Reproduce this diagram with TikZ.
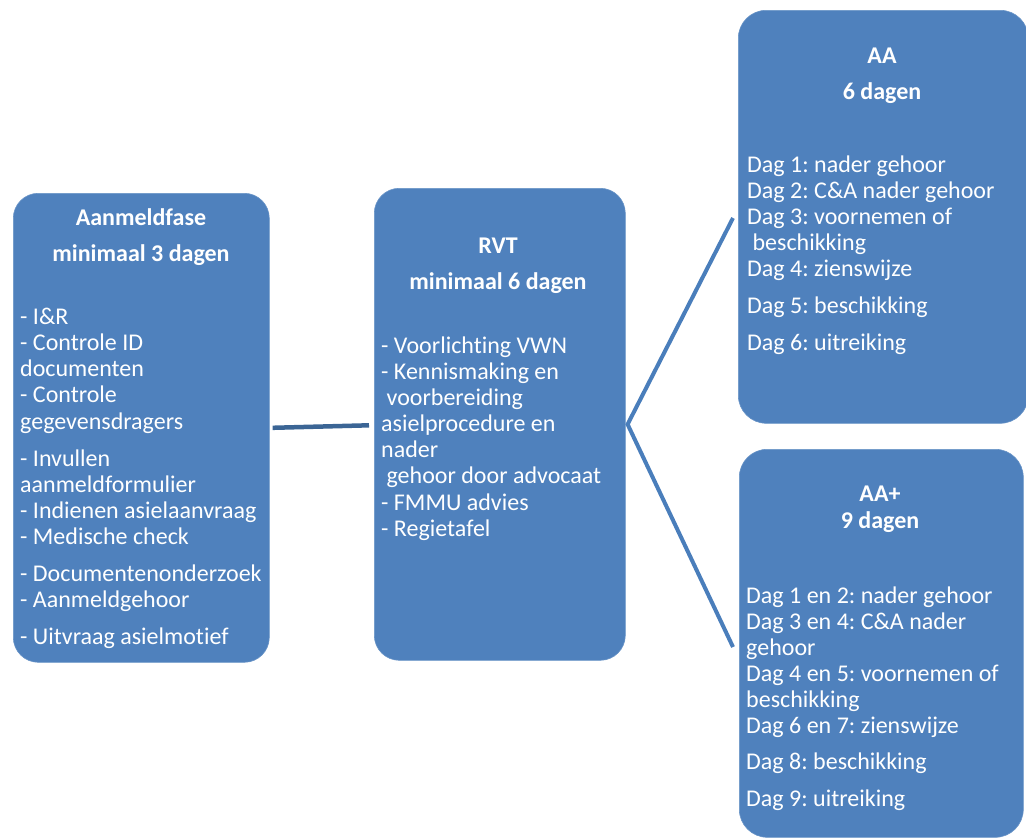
\documentclass[tikz,border=0pt]{standalone}
\usepackage{fontspec}
\setmainfont{Carlito}[Ligatures=NoCommon]
\definecolor{boxblue}{HTML}{4F81BD}
\definecolor{lineblue}{HTML}{4A7EBB}
\definecolor{darkline}{HTML}{3B6595}
\frenchspacing
\begin{document}
\begin{tikzpicture}[x=1pt,y=-1pt,
  phasebox/.style={fill=boxblue,draw=boxblue!85!white,line width=0.6pt,inner sep=0pt,anchor=north west},
  txt/.style={inner sep=0pt,anchor=base west,text=white,font=\fontsize{24}{26}\selectfont},
  ttl/.style={inner sep=0pt,anchor=base,text=white,font=\fontsize{24}{26}\selectfont\bfseries},
  conn/.style={line width=4pt,draw=lineblue},
  conndark/.style={line width=4.5pt,draw=darkline}]
\useasboundingbox (0,0) rectangle (1026,839);
\begin{scope}
\clip (0,0) rectangle (1026,839);
% boxes
\node[phasebox,rounded corners=25pt,minimum width=256pt,minimum height=469pt] (l) at (13,193) {};
\node[phasebox,rounded corners=25pt,minimum width=251pt,minimum height=472pt] (m) at (374,188) {};
\node[phasebox,rounded corners=28pt,minimum width=290pt,minimum height=413pt] (aa) at (738,10) {};
\node[phasebox,rounded corners=28pt,minimum width=284pt,minimum height=388pt] (aap) at (739,449) {};
\end{scope}
% connectors
\coordinate (lstart) at ([xshift=3pt]l.east);
\coordinate (mend) at ([xshift=-5pt,yshift=-1pt]m.west);
\coordinate (hub) at ([xshift=2pt]m.east);
\coordinate (aaend) at (733,218);
\coordinate (aapend) at (733,647);
\draw[conndark] (lstart) -- (mend);
\draw[conn,line join=miter] (aaend) -- (hub) -- (aapend);
% left box text
\node[ttl] (l1) at (141,225) {Aanmeldfase};
\node[ttl] (l2) at (141,261) {minimaal 3 dagen};
\node[txt] (l3) at (20,324) {- I\&R};
\node[txt] (l4) at (20,350) {- Controle ID};
\node[txt] (l5) at (20,376) {documenten};
\node[txt] (l6) at (20,402) {- Controle};
\node[txt] (l7) at (20,429) {gegevensdragers};
\node[txt] (l8) at (20,466) {- Invullen};
\node[txt] (l9) at (20,492) {aanmeldformulier};
\node[txt] (l10) at (20,518) {- Indienen asielaanvraag};
\node[txt] (l11) at (20,544) {- Medische check};
\node[txt] (l12) at (20,581) {- Documentenonderzoek};
\node[txt] (l13) at (20,607) {- Aanmeldgehoor};
\node[txt] (l14) at (20,644) {- Uitvraag asielmotief};
% middle box text
\node[ttl] (m1) at (498,253) {RVT};
\node[ttl] (m2) at (498,289) {minimaal 6 dagen};
\node[txt] (m3) at (381,353) {- Voorlichting VWN};
\node[txt] (m4) at (381,379) {- Kennismaking en};
\node[txt] (m5) at (381,405) {\ voorbereiding};
\node[txt] (m6) at (381,431) {asielprocedure en};
\node[txt] (m7) at (381,457) {nader};
\node[txt] (m8) at (381,483) {\ gehoor door advocaat};
\node[txt] (m9) at (381,510) {- FMMU advies};
\node[txt] (m10) at (381,536) {- Regietafel};
% AA box text
\node[ttl] (a1) at (882,63) {AA};
\node[ttl] (a2) at (882,99) {6 dagen};
\node[txt] (a3) at (747,172) {Dag 1: nader gehoor};
\node[txt] (a4) at (747,198) {Dag 2: C\&A nader gehoor};
\node[txt] (a5) at (747,224) {Dag 3: voornemen of};
\node[txt] (a6) at (747,250) {\ beschikking};
\node[txt] (a7) at (747,276) {Dag 4: zienswijze};
\node[txt] (a8) at (747,313) {Dag 5: beschikking};
\node[txt] (a9) at (747,350) {Dag 6: uitreiking};
% AA+ box text
\node[ttl] (p1) at (880,501) {AA+};
\node[ttl] (p2) at (880,528) {9 dagen};
\node[txt] (p3) at (746,603) {Dag 1 en 2: nader gehoor};
\node[txt] (p4) at (746,629) {Dag 3 en 4: C\&A nader};
\node[txt] (p5) at (746,655) {gehoor};
\node[txt] (p6) at (746,681) {Dag 4 en 5: voornemen of};
\node[txt] (p7) at (746,707) {beschikking};
\node[txt] (p8) at (746,733) {Dag 6 en 7: zienswijze};
\node[txt] (p9) at (746,769) {Dag 8: beschikking};
\node[txt] (p10) at (746,806) {Dag 9: uitreiking};
\end{tikzpicture}
\end{document}
